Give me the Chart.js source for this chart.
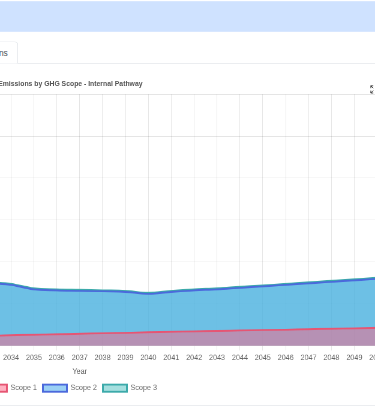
<!DOCTYPE html>
<html lang="en">
<head>
<meta charset="utf-8">
<title>Emissions by GHG Scope - Internal Pathway</title>
<script src="https://cdn.jsdelivr.net/npm/chart.js@4.4.1/dist/chart.umd.min.js"></script>
<style>
  html, body { margin: 0; padding: 0; width: 375px; height: 408px; overflow: hidden; background: #fff; font-family: "Liberation Sans", Arial, sans-serif; }
  /* page is laid out at desktop size and shown at 60% */
  #page { position: absolute; left: 0; top: 0; width: 625px; height: 680px; transform: scale(0.6); transform-origin: 0 0; overflow: hidden; }
  .banner { position: absolute; left: 0; right: 0; top: 2px; height: 51px; background: #cfe2ff; }
  .nav-line { position: absolute; left: 0; right: 0; top: 105px; height: 1px; background: #dee2e6; }
  .tab { position: absolute; right: 595px; top: 69px; height: 37px; box-sizing: border-box; padding: 8px 16px 6px; border: 1px solid #dee2e6; border-bottom: none; border-radius: 6px 6px 0 0; background: #fff; font-size: 14px; line-height: 21px; color: #495057; white-space: nowrap; }
  .card-title { position: absolute; left: -3px; top: 132px; font-size: 11.4px; line-height: 14px; font-weight: bold; color: #555; white-space: nowrap; }
  .expand { position: absolute; left: 616px; top: 141px; width: 16px; height: 16px; }
  .chart-box { position: absolute; left: -414px; top: 146.5px; width: 1061px; height: 516px; }
  .bottom-line { position: absolute; left: 0; right: 0; top: 675px; height: 1px; background: #dee2e6; }
</style>
</head>
<body>
<div id="page">
  <div class="banner"></div>
  <div class="nav-line"></div>
  <div class="tab">Emissions</div>
  <div class="card-title">Emissions by GHG Scope - Internal Pathway</div>
  <svg class="expand" viewBox="0 0 16 16" fill="none" stroke="#333" stroke-width="1.4">
    <path d="M2 6V2h4M2 2l4 4M14 6V2h-4M14 2l-4 4M2 10v4h4M2 14l4-4M14 10v4h-4M14 14l-4-4"/>
  </svg>
  <div class="chart-box"><canvas id="scopeChart"></canvas></div>
  <div class="bottom-line"></div>
</div>
<script>
// Years on the x axis
const years = ["2024", "2025", "2026", "2027", "2028", "2029", "2030", "2031", "2032", "2033",
  "2034", "2035", "2036", "2037", "2038", "2039", "2040", "2041", "2042", "2043",
  "2044", "2045", "2046", "2047", "2048", "2049", "2050"]

// tCO2e per scope, stacked
const scope1 = [2600, 2400, 2200, 2000, 1800, 1600, 1450, 1330, 1250, 1210,
  1250, 1310, 1370, 1430, 1490, 1540, 1600, 1660, 1720, 1770,
  1820, 1870, 1920, 1970, 2020, 2080, 2140]
const scope2 = [24400, 22100, 19300, 16500, 13700, 11200, 9050, 7570, 6650, 6290,
  6010, 5420, 5240, 5120, 5000, 4890, 4590, 4770, 4890, 4960,
  5090, 5210, 5340, 5470, 5600, 5720, 5840]
const scope3 = [120, 120, 120, 120, 120, 120, 120, 120, 120, 120,
  120, 120, 120, 120, 120, 120, 120, 120, 120, 120,
  120, 120, 120, 120, 120, 120, 120]

const yMax = 30000
const yStep = 5000

function makeDataset(label, data, border, fillColor) {
  return {
    label: label,
    data: data,
    borderColor: border,
    backgroundColor: fillColor,
    fill: "origin",
    tension: 0.4,
    pointRadius: 0,
  }
}

const ctx = document.getElementById("scopeChart").getContext("2d")
new Chart(ctx, {
  type: "line",
  data: {
    labels: years,
    datasets: [
      makeDataset("Scope 1", scope1, "rgb(230, 85, 115)", "rgba(255, 99, 132, 0.5)"),
      makeDataset("Scope 2", scope2, "rgb(75, 105, 220)", "rgba(54, 162, 235, 0.5)"),
      makeDataset("Scope 3", scope3, "rgb(60, 170, 170)", "rgba(75, 192, 192, 0.5)"),
    ],
  },
  options: {
    responsive: true,
    maintainAspectRatio: false,
    animation: false,
    plugins: {
      legend: { position: "bottom" },
      tooltip: { enabled: false },
    },
    scales: {
      x: {
        ticks: { padding: 5 },
        title: { display: true, text: "Year" },
      },
      y: {
        stacked: true,
        min: 0,
        max: yMax,
        ticks: { stepSize: yStep },
        afterFit(scale) {
          scale.width = 51
        },
      },
    },
  },
})
</script>
</body>
</html>
